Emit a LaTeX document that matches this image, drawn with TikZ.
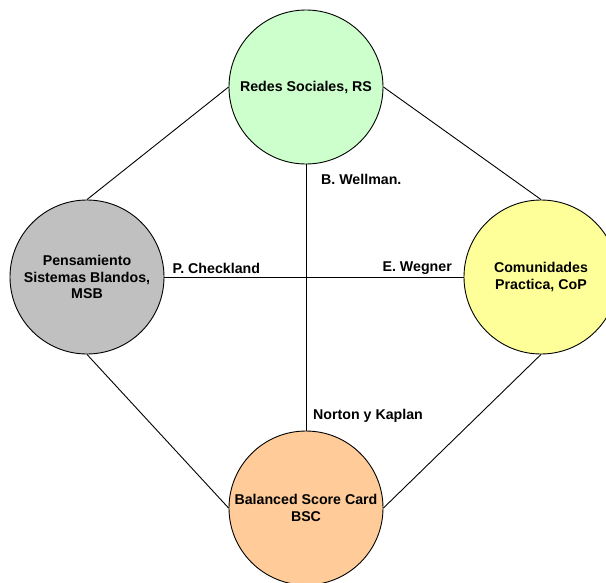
\documentclass[tikz,border=0pt]{standalone}
\usepackage{fontspec}
\setmainfont{Liberation Sans}
\definecolor{rsgreen}{HTML}{CCFFCC}
\definecolor{msbgray}{HTML}{C0C0C0}
\definecolor{copyellow}{HTML}{FFFF99}
\definecolor{bscpeach}{HTML}{FFCC99}
\begin{document}
\begin{tikzpicture}[x=1pt,y=-1pt,
  topic/.style={circle,draw=black,line width=0.9pt,minimum size=154pt,inner sep=0pt,
    align=center,font=\fontsize{14.2}{16.7}\selectfont\bfseries},
  author/.style={inner sep=0pt,font=\fontsize{14.2}{16.7}\selectfont\bfseries},
  link/.style={draw=black,line width=0.9pt}]
\useasboundingbox (0,0) rectangle (606,582);
\clip (0,0) rectangle (606,582);
\fill[white] (0,0) rectangle (606,582);

% the four fields
\node[topic,fill=rsgreen]   (rs)  at (306,87)  {Redes Sociales, RS};
\node[topic,fill=msbgray]   (msb) at (87,277)  {Pensamiento\\Sistemas Blandos,\\MSB};
\node[topic,fill=copyellow] (cop) at (541,277) {Comunidades\\Practica, CoP};
\node[topic,fill=bscpeach]  (bsc) at (306,508) {Balanced Score Card\\BSC};

% connections between the fields
\draw[link] (rs.west)  -- (msb.north);
\draw[link] (rs.east)  -- (cop.north);
\draw[link] (msb.south) -- (bsc.west);
\draw[link] (cop.south) -- (bsc.east);
\draw[link] (rs.south)  -- (bsc.north);
\draw[link] (msb.east)  -- (cop.west);

% authors
\node[author,anchor=west] (wellman)   at (321,179)   {B. Wellman.};
\node[author,anchor=west] (checkland) at (172.5,268) {P. Checkland};
\node[author,anchor=east] (wegner)    at (452,268)   {E. Wegner};
\node[author,anchor=west] (kaplan)    at (313,416)   {Norton y Kaplan};
\end{tikzpicture}
\end{document}
